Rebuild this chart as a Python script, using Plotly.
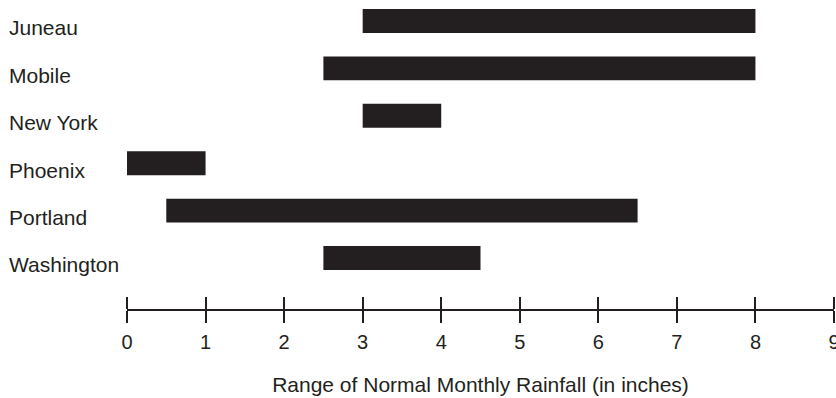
import plotly.graph_objects as go

# Normal monthly rainfall range (inches) per city
cities = ["Juneau", "Mobile", "New York", "Phoenix", "Portland", "Washington"]
low = [3.0, 2.5, 3.0, 0.0, 0.5, 2.5]
high = [8.0, 8.0, 4.0, 1.0, 6.5, 4.5]
tick_vals = list(range(0, 10))
tick_text = [str(v) for v in tick_vals]

ink = "#231f20"
font = dict(family="Liberation Sans, Arial, Helvetica, sans-serif", color=ink)

W, H = 836, 398
fig = go.Figure()
fig.add_trace(go.Bar(
    y=cities,
    x=[h - l for l, h in zip(low, high)],
    base=low,
    orientation="h",
    width=0.505,
    marker=dict(color=ink, line=dict(width=0)),
    hoverinfo="skip",
))

fig.update_layout(
    width=W, height=H,
    margin=dict(l=0, r=0, t=0, b=88.5, autoexpand=False),
    paper_bgcolor="white", plot_bgcolor="white",
    showlegend=False,
    font=dict(size=21, **font),
    xaxis=dict(
        domain=[127 / W, 834 / W],
        range=[0, 9],
        tickvals=tick_vals, ticktext=tick_text,
        ticks="outside", ticklen=12, tickwidth=2, tickcolor=ink,
        showline=True, linecolor=ink, linewidth=2,
        showgrid=False, zeroline=False,
        tickfont=dict(size=20, **font),
        ticklabelstandoff=2, ticklabeloverflow="allow",
        anchor="y", automargin=False,
        title=dict(text="Range of Normal Monthly Rainfall (in inches)",
                   font=dict(size=21, **font), standoff=25),
    ),
    xaxis2=dict(
        domain=[127 / W, 834 / W],
        range=[0, 9], overlaying="x", side="top",
        anchor="free", position=0,
        tickvals=tick_vals, showticklabels=False,
        ticks="outside", ticklen=12, tickwidth=2, tickcolor=ink,
        showline=False, showgrid=False, zeroline=False,
        automargin=False,
    ),
    yaxis=dict(
        type="category",
        categoryorder="array", categoryarray=cities,
        range=[6.074, -0.442],
        anchor="free", position=0, side="right",
        showline=False, showgrid=False, zeroline=False, ticks="",
        ticklabelstandoff=8, ticklabelshift=-7, automargin=False,
        tickfont=dict(size=21, **font),
    ),
)
# invisible trace that activates the upper tick row
fig.add_trace(go.Scatter(x=[0], y=[cities[0]], xaxis="x2", mode="markers",
                         marker=dict(opacity=0), hoverinfo="skip"))

fig.write_html("out.html")
